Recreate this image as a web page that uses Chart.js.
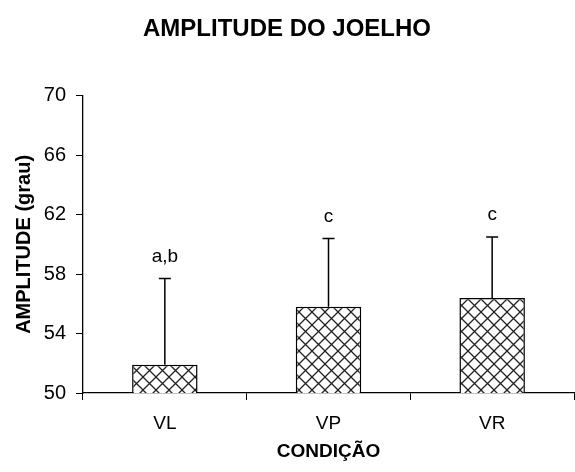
<!DOCTYPE html>
<html>
<head>
<meta charset="utf-8">
<script src="https://cdn.jsdelivr.net/npm/chart.js@4.4.0/dist/chart.umd.min.js"></script>
<style>
  html, body { margin: 0; padding: 0; background: #fff; }
  #wrap { width: 575px; height: 472px; }
</style>
</head>
<body>
<div id="wrap"><canvas id="grafico_joelho"></canvas></div>
<script>
// dados
var condicoes = ['VL', 'VP', 'VR']
var amplitude_media = [51.9, 55.8, 56.4]
var desvio_padrao = [5.8, 4.6, 4.1]
var letras = ['a,b', 'c', 'c']
var ticks_y = [50, 54, 58, 62, 66, 70]

var fonte = "'Liberation Sans', Arial, sans-serif"

function criarHachura() {
    let tam = 13
    let c = document.createElement('canvas')
    c.width = tam
    c.height = tam
    let ctx = c.getContext('2d')
    ctx.fillStyle = '#fff'
    ctx.fillRect(0, 0, tam, tam)
    ctx.strokeStyle = '#222'
    ctx.lineWidth = 1.3
    ctx.beginPath()
    ctx.moveTo(0, 0); ctx.lineTo(tam, tam)
    ctx.moveTo(tam, 0); ctx.lineTo(0, tam)
    ctx.stroke()
    return ctx.createPattern(c, 'repeat')
}

// barras de erro (so para cima) e letras de significancia
var erros_plugin = {
    id: 'erros',
    afterDatasetsDraw: function (chart) {
        let ctx = chart.ctx
        let meta = chart.getDatasetMeta(0)
        let y = chart.scales.y
        ctx.save()
        ctx.strokeStyle = '#000'
        ctx.lineWidth = 1.5
        ctx.fillStyle = '#000'
        ctx.font = '19px ' + fonte
        ctx.textAlign = 'center'
        ctx.textBaseline = 'middle'
        for (let n = 0; n < meta.data.length; n++) {
            let bar = meta.data[n]
            let topo = y.getPixelForValue(amplitude_media[n] + desvio_padrao[n])
            ctx.beginPath()
            ctx.moveTo(bar.x, bar.y)
            ctx.lineTo(bar.x, topo)
            ctx.moveTo(bar.x - 6, topo)
            ctx.lineTo(bar.x + 6, topo)
            ctx.stroke()
            ctx.fillText(letras[n], bar.x, topo - 22)
        }
        ctx.restore()
    }
}

let contexto = document.getElementById('grafico_joelho').getContext('2d')
var myChart_joelho = new Chart(contexto, {
    type: 'bar',
    data: {
        labels: condicoes,
        datasets: [{
            data: amplitude_media,
            backgroundColor: criarHachura(),
            borderColor: '#000',
            borderWidth: 1.5,
            borderSkipped: false,
            barPercentage: 0.4,
            categoryPercentage: 1
        }]
    },
    options: {
        responsive: true,
        maintainAspectRatio: false,
        animation: false,
        layout: { padding: { left: 0, right: 1, top: 0, bottom: 0 } },
        plugins: {
            legend: { display: false },
            tooltip: { enabled: false },
            title: {
                display: true,
                text: 'AMPLITUDE DO JOELHO',
                color: '#000',
                font: { family: fonte, size: 24, weight: 'bold' },
                padding: { top: 15, bottom: 52 }
            }
        },
        scales: {
            x: {
                grid: { offset: true, drawOnChartArea: false, tickLength: 7, color: '#000', lineWidth: 1 },
                border: { color: '#000', width: 1.3 },
                ticks: { color: '#000', font: { family: fonte, size: 19 }, padding: 12 },
                title: {
                    display: true,
                    text: 'CONDIÇÃO',
                    color: '#000',
                    font: { family: fonte, size: 19, weight: 'bold' },
                    padding: { top: 4, bottom: 9 }
                },
                afterFit: function (scale) { scale.height = 79 }
            },
            y: {
                min: 50,
                max: 70,
                afterBuildTicks: function (scale) {
                    scale.ticks = ticks_y.map(function (v) { return { value: v } })
                },
                grid: { drawOnChartArea: false, tickLength: 7, color: '#000', lineWidth: 1 },
                border: { color: '#000', width: 1.3 },
                ticks: { color: '#000', font: { family: fonte, size: 20 }, padding: 10 },
                title: {
                    display: true,
                    text: 'AMPLITUDE (grau)',
                    color: '#000',
                    font: { family: fonte, size: 20, weight: 'bold' },
                    padding: { top: 12, bottom: 4 }
                },
                afterFit: function (scale) { scale.width = 83 }
            }
        }
    },
    plugins: [erros_plugin]
})
</script>
</body>
</html>
